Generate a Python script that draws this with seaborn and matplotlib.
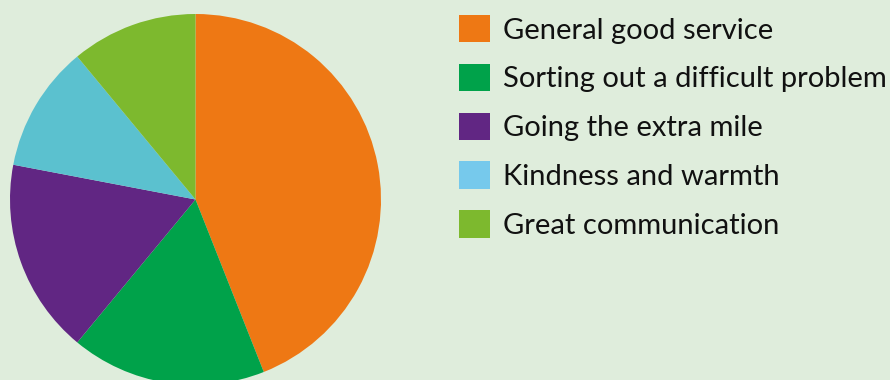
import matplotlib
matplotlib.use("Agg")
import matplotlib.pyplot as plt
import seaborn as sns
from matplotlib.patches import Patch

categories = ["General good service", "Sorting out a difficult problem",
              "Going the extra mile", "Kindness and warmth", "Great communication"]
values = [44, 17, 17, 11, 11]
pie_colors = ["#EE7814", "#00A24A", "#612683", "#5BC1CF", "#7DB92E"]
legend_colors = ["#EE7814", "#00A24A", "#612683", "#76C9EC", "#7DB92E"]
bg = "#DFEDDC"

sns.set_theme(style="white", rc={"figure.facecolor": bg, "axes.facecolor": bg,
                                 "savefig.facecolor": bg})
plt.rcParams["font.family"] = ["Lato", "DejaVu Sans"]

W, H = 890, 380
fig = plt.figure(figsize=(W / 100, H / 100), dpi=100)

cx, cy, r = 195.5, 199.5, 185.5
ax = fig.add_axes([(cx - r) / W, (H - cy - r) / H, 2 * r / W, 2 * r / H])
ax.pie(values, colors=sns.color_palette(pie_colors), startangle=90,
       counterclock=False, radius=1, wedgeprops=dict(linewidth=0))
ax.set_xlim(-1, 1)
ax.set_ylim(-1, 1)
ax.set_aspect("equal")
ax.axis("off")

handles = [Patch(facecolor=c, edgecolor="none") for c in legend_colors]
fs = 21
leg = fig.legend(handles, categories, loc="upper left",
                 bbox_to_anchor=(459 / W, 1 - 15 / H), frameon=False,
                 fontsize=fs, handlelength=1.07, handleheight=1.07,
                 handletextpad=0.45, labelspacing=0.69, borderpad=0,
                 borderaxespad=0, labelcolor="#111111")

fig.savefig("out.png", dpi=100)
